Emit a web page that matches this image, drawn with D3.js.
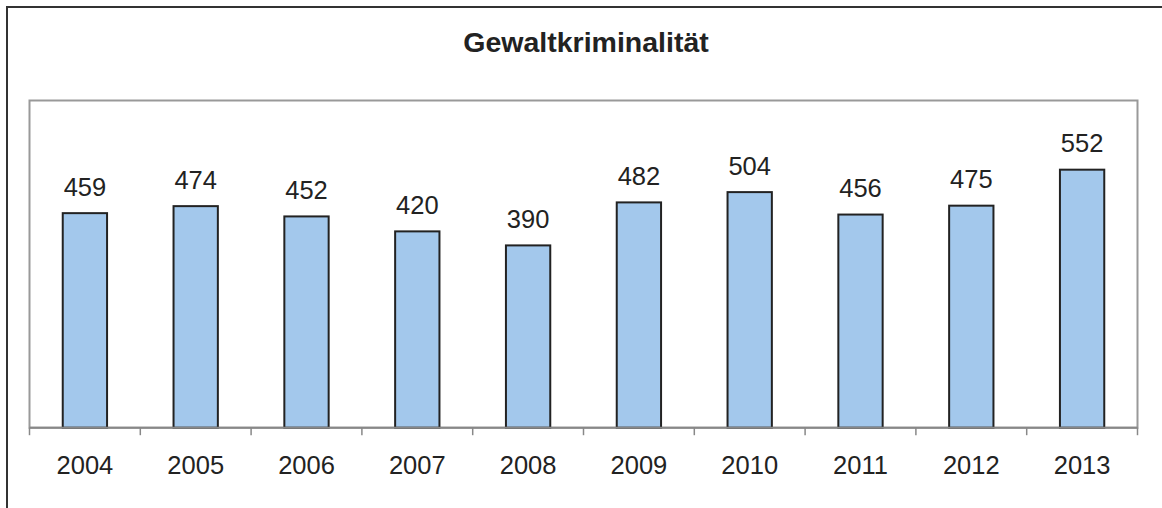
<!DOCTYPE html>
<html><head><meta charset="utf-8">
<script src="https://cdn.jsdelivr.net/npm/d3@7"></script>
<style>body{margin:0;background:#fff}svg{display:block}</style>
</head><body>
<svg id="c" width="1162" height="508"></svg>
<script>
const title = "Gewaltkriminalität";
const years = ["2004","2005","2006","2007","2008","2009","2010","2011","2012","2013"];
const values = [459,474,452,420,390,482,504,456,475,552];
const yDomain = [0,700];

const svg = d3.select("#c");
const font = "Liberation Sans, Arial, sans-serif";
// outer frame (cut at right/bottom)
svg.append("rect").attr("x",7).attr("y",7).attr("width",1170).attr("height",520)
  .attr("fill","none").attr("stroke","#333").attr("stroke-width",2);

const L=29.5, R=1137.5, T=100.5, B=427.7;
const x = d3.scaleBand().domain(years).range([L,R]).paddingInner(0.6).paddingOuter(0.3);
const y = d3.scaleLinear().domain(yDomain).range([B,T]);

svg.append("rect").attr("x",L).attr("y",T).attr("width",R-L).attr("height",B-T)
  .attr("fill","none").attr("stroke","#999").attr("stroke-width",2);

const tt = svg.append("text").attr("x",586).attr("y",51.5).attr("text-anchor","middle")
  .attr("font-family",font).attr("font-weight","bold").attr("font-size",28.5).attr("fill","#222").text(title);

svg.selectAll("rect.bar").data(values).join("rect").attr("class","bar")
  .attr("x",(d,i)=>x(years[i])).attr("width",x.bandwidth())
  .attr("y",d=>y(d)).attr("height",d=>B-y(d))
  .attr("fill","#A3C8EC").attr("stroke","#222").attr("stroke-width",2);

svg.selectAll("text.val").data(values).join("text").attr("class","val")
  .attr("x",(d,i)=>x(years[i])+x.bandwidth()/2).attr("y",d=>y(d)-17.5)
  .attr("text-anchor","middle").attr("font-family",font).attr("font-size",25.5).attr("fill","#222").text(d=>d);

const xo = d3.scaleBand().domain(years).range([L,R]);
const ax = svg.append("g").attr("transform",`translate(0,${B})`)
  .call(d3.axisBottom(xo).tickSize(0).tickPadding(0));
ax.select(".domain").attr("stroke","#888").attr("stroke-width",2).attr("d",`M${L},0H${R}`);
ax.selectAll(".tick text").attr("font-family",font).attr("font-size",25.5).attr("fill","#222")
  .attr("dy",0).attr("y",46.5);
ax.selectAll(".tick line").remove();
const tickPos = years.map(d=>xo(d)).concat([R]);
ax.selectAll("line.tk").data(tickPos).join("line").attr("class","tk")
  .attr("x1",d=>d).attr("x2",d=>d).attr("y1",0).attr("y2",7.5)
  .attr("stroke","#888").attr("stroke-width",1.5);
</script>
</body></html>
